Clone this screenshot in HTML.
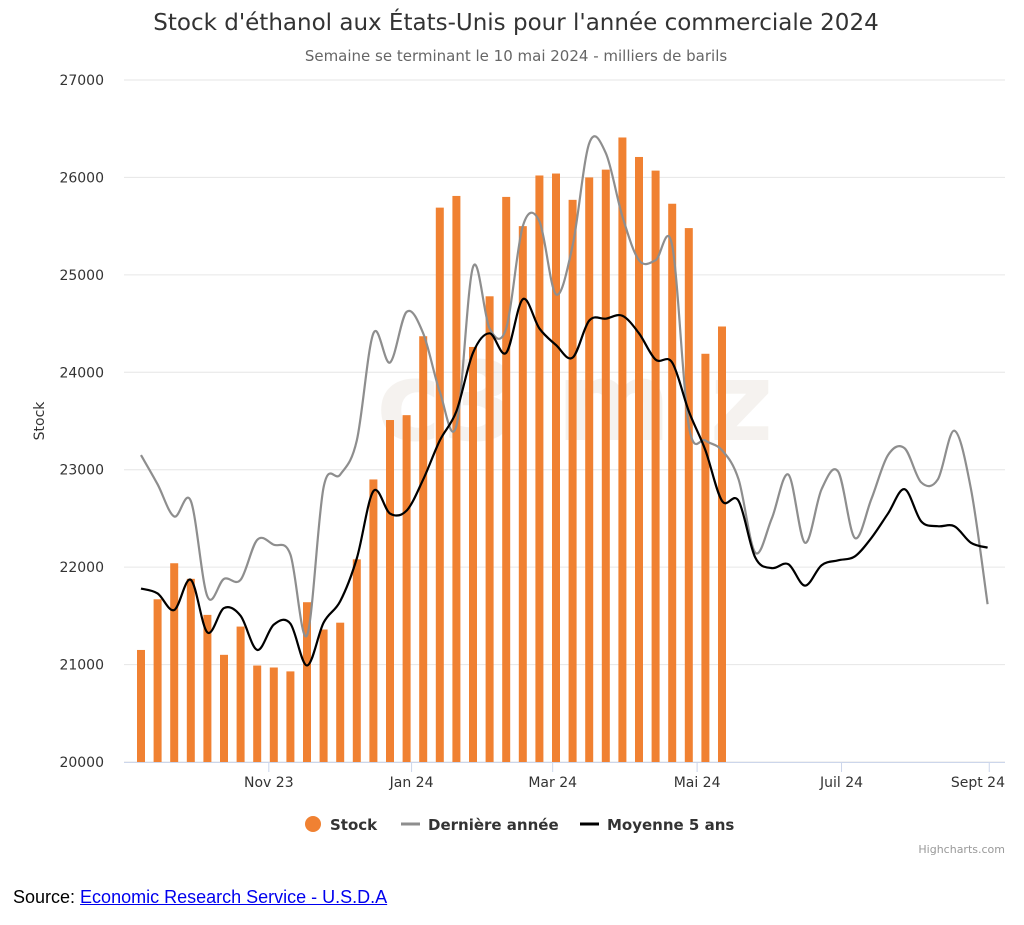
<!DOCTYPE html>
<html><head><meta charset="utf-8"><style>
body{margin:0;background:#fff;width:1024px;height:925px;overflow:hidden;font-family:"DejaVu Sans","Liberation Sans",sans-serif}
#src{position:absolute;left:13px;top:887px;font-family:"Liberation Sans",sans-serif;font-size:18px;color:#000}
#src a{color:#00e}
</style></head><body>
<svg id="chart" width="1024" height="880" style="position:absolute;left:0;top:0">
<text x="516" y="30" text-anchor="middle" font-size="23" fill="#333">Stock d'éthanol aux États-Unis pour l'année commerciale 2024</text>
<text x="516" y="61" text-anchor="middle" font-size="15" fill="#666">Semaine se terminant le 10 mai 2024 - milliers de barils</text>
<text x="575" y="440" text-anchor="middle" font-size="110" font-weight="bold" fill="#f3f0ec" opacity="0.8">c3 m  z</text>
<g id="grid"></g><g id="bars"></g><g id="lines"></g><g id="axes"></g>
<text transform="translate(44,421) rotate(-90)" text-anchor="middle" font-size="14" fill="#333">Stock</text>
<g>
<g><circle cx="313" cy="824" r="8" fill="#f08132"/><text x="330" y="830" font-size="15" font-weight="bold" fill="#333">Stock</text></g>
<g><line x1="401" y1="824" x2="420" y2="824" stroke="#8e8e8e" stroke-width="3"/><text x="428" y="830" font-size="15" font-weight="bold" fill="#333">Dernière année</text></g>
<g><line x1="580" y1="824" x2="599" y2="824" stroke="#000" stroke-width="3"/><text x="607" y="830" font-size="15" font-weight="bold" fill="#333">Moyenne 5 ans</text></g>
</g>
<text x="1005" y="853" text-anchor="end" font-size="11" fill="#999">Highcharts.com</text>
</svg>
<div id="src">Source: <a href="#">Economic Research Service - U.S.D.A</a></div>
<script>
const yTicks=[20000,21000,22000,23000,24000,25000,26000,27000];
const xLabels=["Nov 23","Jan 24","Mar 24","Mai 24","Juil 24","Sept 24"];
const xLabelWeeks=[7.7,16.3,24.8,33.5,42.2,51.1];
const stock=[21150,21670,22040,21880,21510,21100,21390,20990,20970,20930,21640,21360,21430,22080,22900,23510,23560,24370,25690,25810,24260,24780,25800,25500,26020,26040,25770,26000,26080,26410,26210,26070,25730,25480,24190,24470];
const lastYear=[23150,22850,22520,22680,21700,21880,21870,22280,22230,22130,21300,22820,22950,23300,24400,24100,24620,24400,23800,23450,25080,24450,24450,25500,25550,24800,25300,26350,26250,25600,25150,25150,25300,23450,23300,23200,22900,22150,22500,22950,22250,22800,22980,22300,22700,23150,23220,22870,22900,23400,22800,21620];
const avg5=[21780,21730,21560,21870,21330,21580,21500,21150,21410,21420,20990,21430,21650,22090,22780,22550,22580,22900,23300,23600,24200,24400,24200,24750,24450,24280,24150,24530,24550,24580,24400,24130,24100,23600,23200,22680,22680,22100,21990,22030,21810,22020,22070,22110,22300,22550,22800,22470,22420,22420,22250,22200];
const NS='http://www.w3.org/2000/svg';
const X0=124,X1=1005,Y0=762,Y1=80,VMIN=20000,VMAX=27000;
const xw=w=>141+w*16.6;
const yv=v=>Y0-(v-VMIN)/(VMAX-VMIN)*(Y0-Y1);
function mk(t,a,p){const e=document.createElementNS(NS,t);for(const k in a)e.setAttribute(k,a[k]);p.appendChild(e);return e;}
const grid=document.getElementById('grid'),axes=document.getElementById('axes');
yTicks.forEach(t=>{
 const l=mk('line',{x1:X0,x2:X1,y1:yv(t),y2:yv(t),stroke:'#e6e6e6'},grid);
 
 
 const tx=mk('text',{x:104,y:yv(t)+5,'text-anchor':'end','font-size':14,fill:'#333'},axes);
 tx.textContent=t;
 
 
});
const ax=mk('line',{x1:X0,x2:X1,y1:Y0+0.5,y2:Y0+0.5,stroke:'#ccd6eb'},axes);


xLabels.forEach((s,i)=>{
 const x=xw(xLabelWeeks[i]);
 const tk=mk('line',{x1:x,x2:x,y1:Y0,y2:Y0+10,stroke:'#ccd6eb'},axes);
 
 
 const last=i===xLabels.length-1;
 const t=mk('text',{x:last?1005:x,y:Y0+25,'text-anchor':last?'end':'middle','font-size':14,fill:'#333'},axes);
 t.textContent=s;
 
 
});
const bars=document.getElementById('bars');
stock.forEach((v,i)=>{
 const r=mk('rect',{x:xw(i)-4,y:yv(v),width:8,height:Y0-yv(v),fill:'#f08132'},bars);
 
 
});
function path(vals){
 const p=vals.map((v,i)=>[xw(i),yv(v)]);
 let d='M'+p[0][0]+','+p[0][1];
 for(let i=0;i<p.length-1;i++){
  const a=p[Math.max(0,i-1)],b=p[i],c=p[i+1],e=p[Math.min(p.length-1,i+2)];
  const c1=[b[0]+(c[0]-a[0])/6,b[1]+(c[1]-a[1])/6],c2=[c[0]-(e[0]-b[0])/6,c[1]-(e[1]-b[1])/6];
  d+=' C'+c1+' '+c2+' '+c;
 }
 return d;
}
const lines=document.getElementById('lines');
const l1=mk('path',{d:path(lastYear),fill:'none',stroke:'#8e8e8e','stroke-width':2.2},lines);


const l2=mk('path',{d:path(avg5),fill:'none',stroke:'#000','stroke-width':2.2},lines);


</script>
</body></html>
